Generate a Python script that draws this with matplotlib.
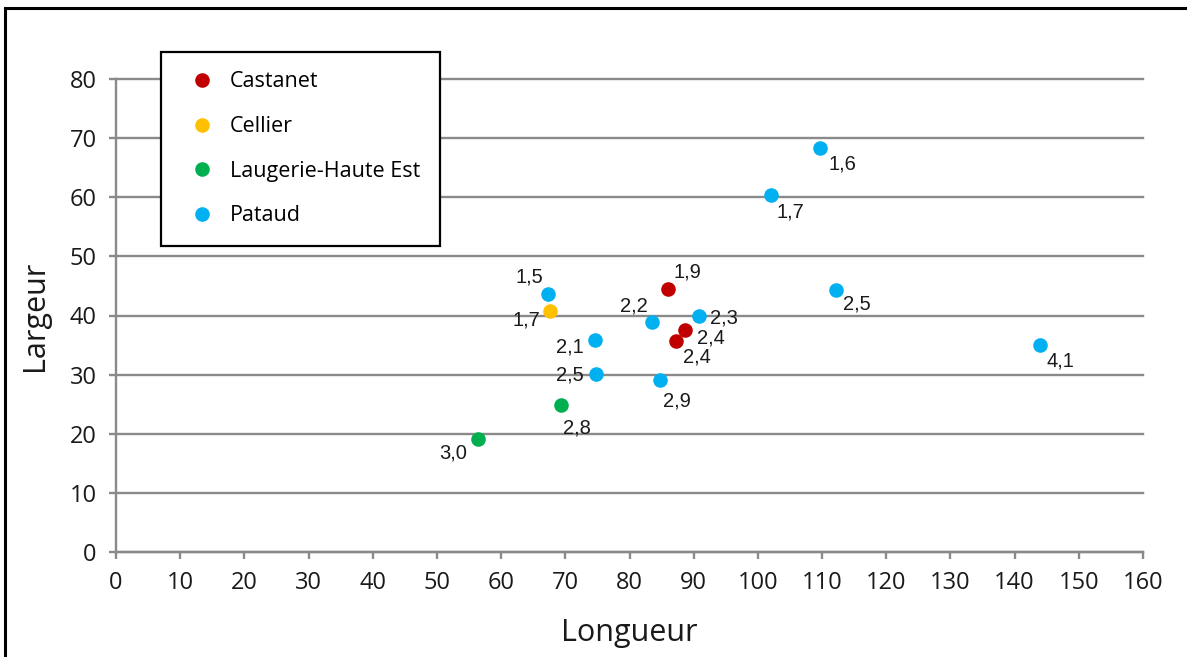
import matplotlib.pyplot as plt
from matplotlib.patches import Rectangle
from matplotlib.lines import Line2D

# Data: (longueur, largeur) and the label shown next to each point
castanet_x = [86.0, 88.6, 87.2]
castanet_y = [44.5, 37.6, 35.7]
castanet_lbl = ['1,9', '2,4', '2,4']

cellier_x = [67.6]
cellier_y = [40.8]
cellier_lbl = ['1,7']

laugerie_x = [56.4, 69.3]
laugerie_y = [19.1, 24.9]
laugerie_lbl = ['3,0', '2,8']

pataud_x = [109.7, 102.0, 67.3, 83.5, 90.8, 112.1, 143.9, 74.6, 74.8, 84.7]
pataud_y = [68.4, 60.4, 43.7, 38.9, 39.9, 44.3, 35.0, 35.9, 30.1, 29.1]
pataud_lbl = ['1,6', '1,7', '1,5', '2,2', '2,3', '2,5', '4,1', '2,1', '2,5', '2,9']

# label placement (pixel offsets from the marker, and horizontal alignment)
castanet_off = [(5, 17, 'left'), (12, -8, 'left'), (7, -16, 'left')]
cellier_off = [(-10, -9, 'right')]
laugerie_off = [(-11, -14, 'right'), (2, -23, 'left')]
pataud_off = [(8, -16, 'left'), (6, -17, 'left'), (-5, 17, 'right'), (-4, 16, 'right'),
              (11, -2, 'left'), (7, -14, 'left'), (7, -16, 'left'), (-11, -7, 'right'),
              (-12, -1, 'right'), (3, -21, 'left')]

series = [
    ('Castanet', castanet_x, castanet_y, castanet_lbl, castanet_off, '#C00000'),
    ('Cellier', cellier_x, cellier_y, cellier_lbl, cellier_off, '#FFC000'),
    ('Laugerie-Haute Est', laugerie_x, laugerie_y, laugerie_lbl, laugerie_off, '#00B050'),
    ('Pataud', pataud_x, pataud_y, pataud_lbl, pataud_off, '#00B0F0'),
]

grey = '#8A8A8A'

fig = plt.figure(figsize=(11.87, 6.57), dpi=100)
ax = fig.add_axes([116/1187, 1-552/657, (1143-116)/1187, (552-79)/657])

for name, xs, ys, lbls, offs, col in series:
    ax.scatter(xs, ys, s=110, color=col, zorder=3, linewidths=0)
    for x, y, t, (dx, dy, ha) in zip(xs, ys, lbls, offs):
        # px -> points (dpi 100 -> 0.72 pt per px)
        ax.annotate(t, (x, y), xytext=(dx*0.72, dy*0.72), textcoords='offset points',
                    ha=ha, va='center', fontsize=14.5, family='Liberation Sans',
                    color='#1a1a1a', zorder=4)

ax.set_xlim(0, 160)
ax.set_ylim(0, 80)
ax.set_xticks(range(0, 161, 10))
ax.set_yticks(range(0, 81, 10))
ax.grid(axis='y', color=grey, linewidth=1.7, zorder=0)
ax.set_axisbelow(True)
for gl in ax.get_ygridlines():
    gl.set_clip_on(False)
for s in ['top', 'right']:
    ax.spines[s].set_visible(False)
for s in ['left', 'bottom']:
    ax.spines[s].set_color(grey)
    ax.spines[s].set_linewidth(1.7)
ax.tick_params(axis='both', direction='out', length=5, width=1.7, color=grey,
               labelsize=17, labelcolor='#1a1a1a')
ax.tick_params(axis='x', pad=9)
ax.tick_params(axis='y', pad=9)
for lab in ax.get_xticklabels() + ax.get_yticklabels():
    lab.set_family('Open Sans')

ax.set_xlabel('Longueur', fontsize=22, family='Open Sans', labelpad=16, color='#1a1a1a')
ax.set_ylabel('Largeur', fontsize=22, family='Open Sans', labelpad=14, color='#1a1a1a')

handles = [Line2D([], [], marker='o', linestyle='none', markersize=10.5,
                  markerfacecolor=c, markeredgewidth=0, label=n)
           for n, _, _, _, _, c in series]
leg = fig.legend(handles=handles, loc='upper left',
                 bbox_to_anchor=(161/1187, 1-52/657), bbox_transform=fig.transFigure,
                 frameon=True, fancybox=False, edgecolor='black', framealpha=1,
                 prop={'family': 'Open Sans', 'size': 15.5}, labelspacing=1.1,
                 handletextpad=0.3, borderpad=0.9, borderaxespad=0)
leg.get_frame().set_linewidth(1.6)

# outer border of the chart
fig.patches.append(Rectangle((5/1187, -0.05), 1.1, 1.05 - 8/657, transform=fig.transFigure,
                             fill=False, edgecolor='black', linewidth=2.2))

fig.savefig('out.png', dpi=100)
